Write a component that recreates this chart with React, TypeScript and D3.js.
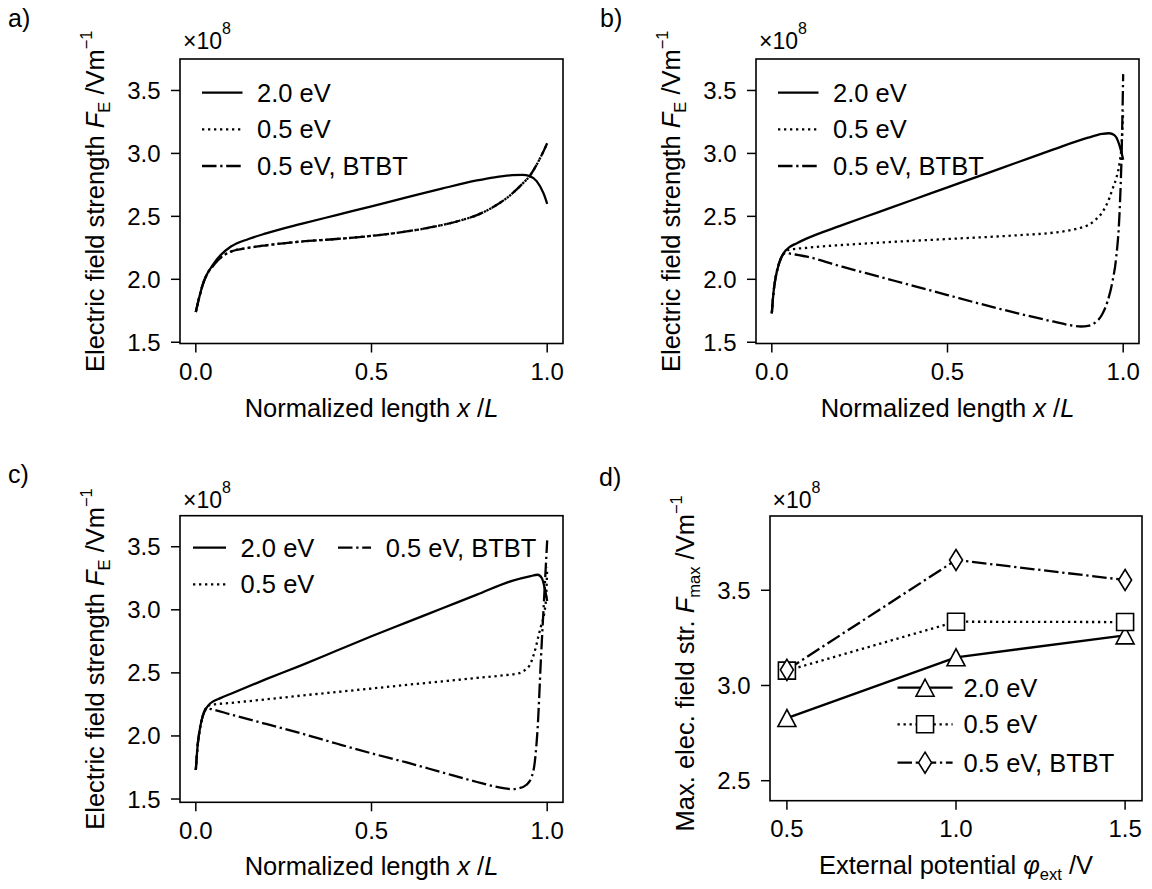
import React from 'react';
import * as d3 from 'd3';

const FONT = "'Liberation Sans', Arial, Helvetica, sans-serif";

// ---------- Panel a (φext = 0.5 V) ----------
const aX_20 = [0, 0.01, 0.02, 0.03, 0.05, 0.07, 0.1, 0.15, 0.2, 0.3, 0.4, 0.5, 0.6, 0.7, 0.8, 0.85, 0.9, 0.93, 0.95, 0.97, 0.99, 1.0];
const aY_20 = [1.74, 1.86, 1.96, 2.03, 2.12, 2.19, 2.26, 2.32, 2.365, 2.44, 2.51, 2.58, 2.65, 2.72, 2.785, 2.81, 2.827, 2.83, 2.82, 2.78, 2.68, 2.6];
const aX_05 = [0, 0.01, 0.02, 0.03, 0.05, 0.07, 0.1, 0.15, 0.2, 0.3, 0.4, 0.5, 0.6, 0.7, 0.75, 0.8, 0.85, 0.9, 0.93, 0.95, 0.97, 0.99, 1.0];
const aY_05 = [1.74, 1.86, 1.96, 2.03, 2.11, 2.17, 2.22, 2.25, 2.27, 2.3, 2.32, 2.345, 2.38, 2.43, 2.465, 2.51, 2.58, 2.68, 2.76, 2.82, 2.91, 3.02, 3.08];
const aX_bt = [0, 0.01, 0.02, 0.03, 0.05, 0.07, 0.1, 0.15, 0.2, 0.3, 0.4, 0.5, 0.6, 0.7, 0.75, 0.8, 0.85, 0.9, 0.93, 0.95, 0.97, 0.99, 1.0];
const aY_bt = [1.74, 1.86, 1.96, 2.03, 2.11, 2.17, 2.22, 2.25, 2.27, 2.3, 2.32, 2.345, 2.38, 2.43, 2.465, 2.51, 2.58, 2.68, 2.76, 2.82, 2.91, 3.02, 3.08];

// ---------- Panel b (φext = 1.0 V) ----------
const bX_20 = [0, 0.005, 0.01, 0.02, 0.03, 0.04, 0.05, 0.07, 0.1, 0.2, 0.3, 0.4, 0.5, 0.6, 0.7, 0.8, 0.9, 0.94, 0.96, 0.975, 0.985, 0.993, 1.0];
const bY_20 = [1.73, 1.9, 2.0, 2.12, 2.19, 2.23, 2.255, 2.285, 2.325, 2.43, 2.53, 2.63, 2.73, 2.83, 2.93, 3.03, 3.125, 3.155, 3.16, 3.145, 3.1, 3.03, 2.95];
const bX_05 = [0, 0.005, 0.01, 0.02, 0.03, 0.04, 0.05, 0.1, 0.3, 0.5, 0.7, 0.8, 0.85, 0.88, 0.9, 0.92, 0.94, 0.96, 0.97, 0.98, 0.99, 0.995, 1.0];
const bY_05 = [1.73, 1.9, 2.0, 2.12, 2.19, 2.22, 2.235, 2.25, 2.29, 2.32, 2.35, 2.37, 2.39, 2.41, 2.43, 2.47, 2.53, 2.64, 2.72, 2.8, 2.93, 3.05, 3.335];
const bX_bt = [0, 0.005, 0.01, 0.02, 0.03, 0.04, 0.05, 0.1, 0.2, 0.3, 0.4, 0.5, 0.6, 0.7, 0.8, 0.85, 0.88, 0.9, 0.92, 0.94, 0.955, 0.97, 0.98, 0.99, 0.996, 1.0];
const bY_bt = [1.73, 1.9, 2.0, 2.12, 2.19, 2.21, 2.205, 2.18, 2.1, 2.025, 1.95, 1.875, 1.8, 1.73, 1.665, 1.635, 1.625, 1.63, 1.655, 1.72, 1.82, 1.99, 2.17, 2.55, 3.05, 3.63];

// ---------- Panel c (φext = 1.5 V) ----------
const cX_20 = [0, 0.005, 0.01, 0.02, 0.03, 0.04, 0.05, 0.07, 0.1, 0.2, 0.3, 0.4, 0.5, 0.6, 0.7, 0.8, 0.9, 0.95, 0.973, 0.985, 0.993, 1.0];
const cY_20 = [1.73, 1.92, 2.03, 2.16, 2.22, 2.255, 2.275, 2.3, 2.335, 2.45, 2.56, 2.675, 2.79, 2.9, 3.01, 3.12, 3.23, 3.265, 3.278, 3.25, 3.17, 3.07];
const cX_05 = [0, 0.005, 0.01, 0.02, 0.03, 0.04, 0.1, 0.2, 0.3, 0.4, 0.5, 0.6, 0.7, 0.8, 0.88, 0.92, 0.94, 0.95, 0.96, 0.968, 0.975, 0.982, 0.992, 0.997, 1.0];
const cY_05 = [1.73, 1.92, 2.03, 2.16, 2.22, 2.245, 2.262, 2.29, 2.32, 2.348, 2.376, 2.405, 2.432, 2.46, 2.482, 2.497, 2.53, 2.56, 2.63, 2.707, 2.79, 2.866, 2.98, 3.1, 3.335];
const cX_bt = [0, 0.005, 0.01, 0.02, 0.03, 0.04, 0.1, 0.2, 0.3, 0.4, 0.5, 0.6, 0.7, 0.8, 0.85, 0.88, 0.9, 0.92, 0.94, 0.955, 0.965, 0.973, 0.982, 0.992, 1.0];
const cY_bt = [1.73, 1.92, 2.03, 2.16, 2.22, 2.215, 2.17, 2.095, 2.02, 1.94, 1.862, 1.79, 1.712, 1.635, 1.6, 1.585, 1.578, 1.585, 1.611, 1.67, 1.8, 2.07, 2.6, 3.13, 3.55];

// ---------- Panel d (maximum field vs external potential) ----------
const dPhi = [0.5, 1.0, 1.5];
const dMax_20 = [2.829, 3.148, 3.263];
const dMax_05 = [3.078, 3.335, 3.333];
const dMax_bt = [3.082, 3.659, 3.554];

// ---------- ticks / labels ----------
const xTicksL = [0, 0.5, 1.0];
const yTicksF = [1.5, 2.0, 2.5, 3.0, 3.5];
const xTicksPhi = [0.5, 1.0, 1.5];
const yTicksMax = [2.5, 3.0, 3.5];
const legendLabels = ['2.0 eV', '0.5 eV', '0.5 eV, BTBT'];

const LW = 2.3;
const DOT = '2.3,3.7';
const DASHDOT = '14.5,3.7,2.3,3.7';
const dashes = [null, DOT, DASHDOT];
const markers = ['tri', 'sq', 'dia'];

function Marker({ type, cx, cy }: { type: string; cx: number; cy: number }) {
  let d = '';
  if (type === 'tri') {
    const w = 18, h = 17;
    d = `M${cx},${cy - h / 2}L${cx - w / 2},${cy + h / 2}L${cx + w / 2},${cy + h / 2}Z`;
  } else if (type === 'sq') {
    const s = 17;
    d = `M${cx - s / 2},${cy - s / 2}h${s}v${s}h${-s}Z`;
  } else {
    const w = 13, h = 21;
    d = `M${cx},${cy - h / 2}L${cx + w / 2},${cy}L${cx},${cy + h / 2}L${cx - w / 2},${cy}Z`;
  }
  return <path d={d} fill="white" stroke="black" strokeWidth={1.6} strokeLinejoin="miter" />;
}

type Box = { x0: number; x1: number; y0: number; y1: number };
type PanelCfg = {
  id: string;
  letter: string;
  letterPos: [number, number];
  box: Box;
  xDomain: [number, number];
  yDomain: [number, number];
  xTicks: number[];
  yTicks: number[];
  series: { xs: number[]; ys: number[] }[];
  smooth: boolean;
  withMarkers: boolean;
  legend: { hx0: number; hx1: number; tx: number; base: number }[];
  offsetPos: [number, number];
  yLabel: 'E' | 'max';
  yLabelShift: number;
  xLabel: 'L' | 'phi';
};

function Panel({ cfg }: { cfg: PanelCfg }) {
  const { box } = cfg;
  const x = d3.scaleLinear().domain(cfg.xDomain).range([box.x0, box.x1]);
  const y = d3.scaleLinear().domain(cfg.yDomain).range([box.y1, box.y0]);
  const line = d3
    .line<[number, number]>()
    .x((d) => x(d[0]))
    .y((d) => y(d[1]))
    .curve(cfg.smooth ? d3.curveMonotoneX : d3.curveLinear);
  const cx = (box.x0 + box.x1) / 2;
  const cy = (box.y0 + box.y1) / 2;
  const tick = 9;
  const clipId = `clip-${cfg.id}`;
  return (
    <g>
      <defs>
        <clipPath id={clipId}>
          <rect x={box.x0} y={box.y0} width={box.x1 - box.x0} height={box.y1 - box.y0} />
        </clipPath>
      </defs>
      <text x={cfg.letterPos[0]} y={cfg.letterPos[1]} fontSize={25} fontFamily={FONT}>
        {cfg.letter}
      </text>
      <g clipPath={`url(#${clipId})`}>
        {cfg.series.map((s, i) => {
          const pts = s.xs.map((v, k) => [v, s.ys[k]] as [number, number]);
          return (
            <path
              key={i}
              d={line(pts) || ''}
              fill="none"
              stroke="black"
              strokeWidth={LW}
              strokeDasharray={dashes[i] || undefined}
              strokeLinejoin="round"
            />
          );
        })}
      </g>
      {cfg.withMarkers &&
        cfg.series.map((s, i) =>
          s.xs.map((v, k) => <Marker key={`${i}-${k}`} type={markers[i]} cx={x(v)} cy={y(s.ys[k])} />)
        )}
      <rect
        x={box.x0}
        y={box.y0}
        width={box.x1 - box.x0}
        height={box.y1 - box.y0}
        fill="none"
        stroke="black"
        strokeWidth={1.6}
      />
      {cfg.xTicks.map((t) => (
        <g key={`xt${t}`}>
          <line x1={x(t)} x2={x(t)} y1={box.y1} y2={box.y1 + tick} stroke="black" strokeWidth={1.5} />
          <text x={x(t)} y={box.y1 + 36.5} fontSize={24} fontFamily={FONT} textAnchor="middle">
            {t.toFixed(1)}
          </text>
        </g>
      ))}
      {cfg.yTicks.map((t) => (
        <g key={`yt${t}`}>
          <line x1={box.x0 - tick} x2={box.x0} y1={y(t)} y2={y(t)} stroke="black" strokeWidth={1.5} />
          <text x={box.x0 - 19.5} y={y(t) + 8.5} fontSize={24} fontFamily={FONT} textAnchor="end">
            {t.toFixed(1)}
          </text>
        </g>
      ))}
      <text x={cfg.offsetPos[0]} y={cfg.offsetPos[1]} fontSize={23} fontFamily={FONT}>
        ×10
        <tspan dy={-15} fontSize={16}>
          8
        </tspan>
      </text>
      <text
        transform={`translate(${box.x0 - 76},${cy + cfg.yLabelShift}) rotate(-90)`}
        fontSize={25.5}
        fontFamily={FONT}
        textAnchor="middle"
      >
        {cfg.yLabel === 'E' ? 'Electric field strength ' : 'Max. elec. field str. '}
        <tspan fontStyle="italic">F</tspan>
        <tspan fontSize={16.5} dy={6}>
          {cfg.yLabel === 'E' ? 'E' : 'max'}
        </tspan>
        <tspan dy={-6}> /Vm</tspan>
        <tspan fontSize={16.5} dy={-12}>
          −1
        </tspan>
      </text>
      <text x={cx} y={box.y1 + 73} fontSize={25.5} fontFamily={FONT} textAnchor="middle">
        {cfg.xLabel === 'L' ? (
          <>
            Normalized length <tspan fontStyle="italic">x</tspan> /<tspan fontStyle="italic">L</tspan>
          </>
        ) : (
          <>
            External potential <tspan fontStyle="italic">φ</tspan>
            <tspan fontSize={16.5} dy={6}>
              ext
            </tspan>
            <tspan dy={-6}> /V</tspan>
          </>
        )}
      </text>
      {cfg.legend.map((L, i) => {
        const hy = L.base - 9;
        return (
          <g key={`lg${i}`}>
            <line
              x1={L.hx0}
              x2={L.hx1}
              y1={hy}
              y2={hy}
              stroke="black"
              strokeWidth={LW}
              strokeDasharray={dashes[i] || undefined}
            />
            {cfg.withMarkers && <Marker type={markers[i]} cx={(L.hx0 + L.hx1) / 2} cy={hy} />}
            <text x={L.tx} y={L.base} fontSize={25.5} fontFamily={FONT}>
              {legendLabels[i]}
            </text>
          </g>
        );
      })}
    </g>
  );
}

const legendTop = (dx: number) => [
  { hx0: 202 + dx, hx1: 242.5 + dx, tx: 257 + dx, base: 101.7 },
  { hx0: 202 + dx, hx1: 242.5 + dx, tx: 257 + dx, base: 138.3 },
  { hx0: 202 + dx, hx1: 242.5 + dx, tx: 257 + dx, base: 175 },
];

const panels: PanelCfg[] = [
  {
    id: 'a',
    letter: 'a)',
    letterPos: [8, 27],
    box: { x0: 180, x1: 563, y0: 59, y1: 343.5 },
    xDomain: [-0.045, 1.045],
    yDomain: [1.49, 3.75],
    xTicks: xTicksL,
    yTicks: yTicksF,
    series: [
      { xs: aX_20, ys: aY_20 },
      { xs: aX_05, ys: aY_05 },
      { xs: aX_bt, ys: aY_bt },
    ],
    smooth: true,
    withMarkers: false,
    legend: legendTop(0),
    offsetPos: [183, 49],
    yLabel: 'E',
    yLabelShift: 0,
    xLabel: 'L',
  },
  {
    id: 'b',
    letter: 'b)',
    letterPos: [600, 27],
    box: { x0: 756, x1: 1139, y0: 59, y1: 343.5 },
    xDomain: [-0.045, 1.045],
    yDomain: [1.49, 3.75],
    xTicks: xTicksL,
    yTicks: yTicksF,
    series: [
      { xs: bX_20, ys: bY_20 },
      { xs: bX_05, ys: bY_05 },
      { xs: bX_bt, ys: bY_bt },
    ],
    smooth: true,
    withMarkers: false,
    legend: legendTop(576),
    offsetPos: [759, 49],
    yLabel: 'E',
    yLabelShift: 0,
    xLabel: 'L',
  },
  {
    id: 'c',
    letter: 'c)',
    letterPos: [8, 483],
    box: { x0: 180, x1: 563, y0: 515.7, y1: 802.3 },
    xDomain: [-0.045, 1.045],
    yDomain: [1.474, 3.746],
    xTicks: xTicksL,
    yTicks: yTicksF,
    series: [
      { xs: cX_20, ys: cY_20 },
      { xs: cX_05, ys: cY_05 },
      { xs: cX_bt, ys: cY_bt },
    ],
    smooth: true,
    withMarkers: false,
    legend: [
      { hx0: 193, hx1: 226, tx: 240.6, base: 556.7 },
      { hx0: 193, hx1: 226, tx: 240.6, base: 593.3 },
      { hx0: 338, hx1: 371, tx: 385.7, base: 556.7 },
    ],
    offsetPos: [183, 508],
    yLabel: 'E',
    yLabelShift: 0,
    xLabel: 'L',
  },
  {
    id: 'd',
    letter: 'd)',
    letterPos: [599, 486],
    box: { x0: 770, x1: 1142, y0: 516, y1: 800.7 },
    xDomain: [0.45, 1.55],
    yDomain: [2.395, 3.89],
    xTicks: xTicksPhi,
    yTicks: yTicksMax,
    series: [
      { xs: dPhi, ys: dMax_20 },
      { xs: dPhi, ys: dMax_05 },
      { xs: dPhi, ys: dMax_bt },
    ],
    smooth: false,
    withMarkers: true,
    legend: [
      { hx0: 897.5, hx1: 952.6, tx: 963.6, base: 696.7 },
      { hx0: 897.5, hx1: 952.6, tx: 963.6, base: 733.3 },
      { hx0: 897.5, hx1: 952.6, tx: 963.6, base: 771.7 },
    ],
    offsetPos: [772.5, 508],
    yLabel: 'max',
    yLabelShift: 5,
    xLabel: 'phi',
  },
];

export default function App() {
  return (
    <svg
      width={1152}
      height={889}
      viewBox="0 0 1152 889"
      style={{ position: 'absolute', left: 0, top: 0, background: 'white', display: 'block' }}
    >
      <rect x={0} y={0} width={1152} height={889} fill="white" />
      {panels.map((p) => (
        <Panel key={p.id} cfg={p} />
      ))}
    </svg>
  );
}
